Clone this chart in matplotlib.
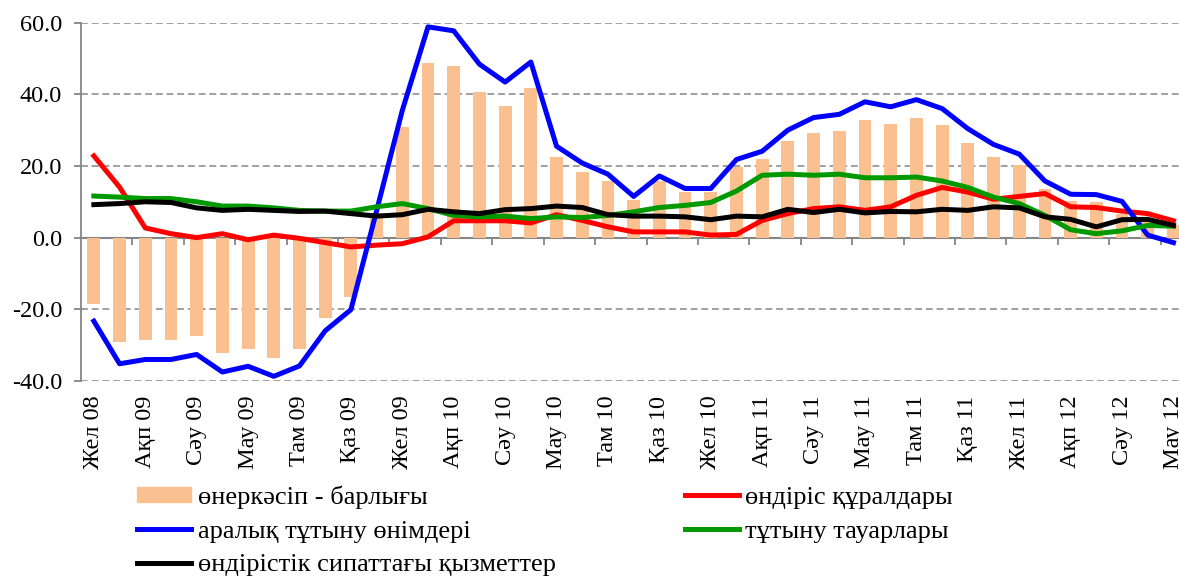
import numpy as np
import matplotlib.pyplot as plt
from matplotlib.patches import Patch
from matplotlib.lines import Line2D

plt.rcParams['font.family'] = ['Liberation Serif', 'DejaVu Serif']

# every second month is labelled (Dec 2008 .. Jun 2012)
tick_labels = ["Жел 08", "Ақп 09", "Сәу 09", "Мау 09", "Там 09", "Қаз 09",
               "Жел 09", "Ақп 10", "Сәу 10", "Мау 10", "Там 10", "Қаз 10",
               "Жел 10", "Ақп 11", "Сәу 11", "Мау 11", "Там 11", "Қаз 11",
               "Жел 11", "Ақп 12", "Сәу 12", "Мау 12"]

industry_total = [-18.6, -29.1, -28.5, -28.7, -27.5, -32.2, -31.1, -33.6, -31.1, -22.3,
                  -16.6, 7.0, 30.9, 48.6, 47.8, 40.6, 36.7, 41.8, 22.5, 18.4,
                  15.8, 10.6, 15.7, 12.7, 12.7, 19.7, 21.9, 27.0, 29.2, 29.7,
                  32.8, 31.7, 33.4, 31.5, 26.5, 22.5, 20.3, 13.5, 10.1, 9.9,
                  6.5, 4.5, 3.5]
means_of_production = [22.8, 14.1, 2.7, 1.1, 0.0, 1.1, -0.6, 0.7, -0.2, -1.4,
                       -2.6, -2.1, -1.7, 0.2, 4.7, 4.7, 4.7, 4.1, 6.4, 4.8,
                       3.0, 1.6, 1.6, 1.6, 0.7, 0.9, 4.8, 6.7, 8.1, 8.6,
                       7.6, 8.6, 11.8, 14.0, 12.7, 10.7, 11.5, 12.3, 8.6, 8.4,
                       7.4, 6.7, 4.7]
intermediate_goods = [-23.3, -35.2, -34.0, -34.0, -32.6, -37.5, -35.9, -38.7, -35.8, -26.0,
                      -20.1, 7.5, 35.5, 58.8, 57.7, 48.4, 43.4, 49.0, 25.5, 20.8,
                      17.7, 11.5, 17.2, 13.7, 13.7, 21.8, 24.1, 30.0, 33.5, 34.4,
                      37.9, 36.5, 38.5, 36.0, 30.4, 26.0, 23.3, 15.8, 12.1, 12.0,
                      10.1, 0.7, -1.4]
consumer_goods = [11.6, 11.3, 10.9, 10.9, 10.0, 8.8, 8.8, 8.3, 7.6, 7.4,
                  7.4, 8.6, 9.5, 8.1, 6.2, 5.8, 6.0, 5.3, 5.8, 5.6,
                  6.2, 7.2, 8.4, 9.0, 9.8, 13.0, 17.4, 17.7, 17.4, 17.7,
                  16.7, 16.7, 16.9, 15.8, 14.0, 11.3, 9.5, 6.2, 2.2, 1.1,
                  1.9, 3.4, 3.2]
industrial_services = [9.2, 9.5, 10.0, 9.8, 8.3, 7.6, 7.9, 7.6, 7.3, 7.4,
                       6.7, 6.0, 6.4, 7.9, 7.2, 6.7, 7.8, 8.1, 8.8, 8.4,
                       6.4, 6.0, 6.0, 5.8, 5.0, 6.0, 5.8, 7.9, 7.0, 7.9,
                       6.9, 7.3, 7.2, 7.9, 7.6, 8.6, 8.3, 5.8, 5.1, 3.0,
                       5.0, 5.1, 3.4]

x = np.arange(len(industry_total))
grey = "#868686"
fs = 17.5

fig = plt.figure(figsize=(11.79, 5.79), dpi=100)
# the original chart is cut on the right side
ax = fig.add_axes([0.0687, 0.342, 0.9375, 0.619])

ax.bar(x, industry_total, width=0.5, color="#FAC090", zorder=2)
ax.plot(x, means_of_production, color="#FF0000", lw=3.6, zorder=3)
ax.plot(x, intermediate_goods, color="#0000FF", lw=3.6, zorder=4)
ax.plot(x, consumer_goods, color="#009900", lw=3.6, zorder=5)
ax.plot(x, industrial_services, color="#000000", lw=3.6, zorder=6)

ax.set_xlim(-0.5, len(x) - 0.5)
ax.set_ylim(-40, 60)
ax.set_yticks(np.arange(-40, 61, 20))
ax.set_yticklabels([f"{v:.1f}" for v in np.arange(-40, 61, 20)], fontsize=fs)
ax.yaxis.grid(True, linestyle=(0, (4.5, 2.5)), color=grey, lw=1.1, zorder=0)
ax.set_axisbelow(True)

for side in ["top", "right", "bottom"]:
    ax.spines[side].set_visible(False)
ax.spines["left"].set_color(grey)
ax.spines["left"].set_linewidth(1.3)
ax.tick_params(axis="y", colors=grey, length=5, width=1.3, labelcolor="black", pad=8.5)

# month labels below the plot
ax.set_xticks(x[::2])
ax.set_xticklabels(tick_labels, rotation=90, fontsize=fs)
ax.tick_params(axis="x", length=0, pad=10.5)

# zero line with tick marks between every second month
zero = ax.secondary_xaxis(0.4)
zero.set_xticks(np.arange(1.5, len(x) - 0.5, 2))
zero.set_xticklabels([])
zero.spines["bottom"].set_color(grey)
zero.spines["bottom"].set_linewidth(1.5)
zero.tick_params(axis="x", colors=grey, length=5, width=1.3, direction="out")

handles = [Patch(color="#FAC090"),
           Line2D([], [], color="#0000FF", lw=3.6),
           Line2D([], [], color="#000000", lw=3.6),
           Line2D([], [], color="#FF0000", lw=3.6),
           Line2D([], [], color="#009900", lw=3.6)]
labels = ["өнеркәсіп - барлығы", "аралық тұтыну өнімдері",
          "өндірістік сипаттағы қызметтер", "өндіріс құралдары",
          "тұтыну тауарлары"]
fig.legend(handles, labels, ncol=2, loc="upper left", bbox_to_anchor=(0.1165, 0.162),
           frameon=False, fontsize=19, borderpad=0, borderaxespad=0,
           handlelength=2.05, handleheight=0.5, handletextpad=0.23,
           labelspacing=0.45, columnspacing=4.9)

fig.savefig("out.png", dpi=100)
